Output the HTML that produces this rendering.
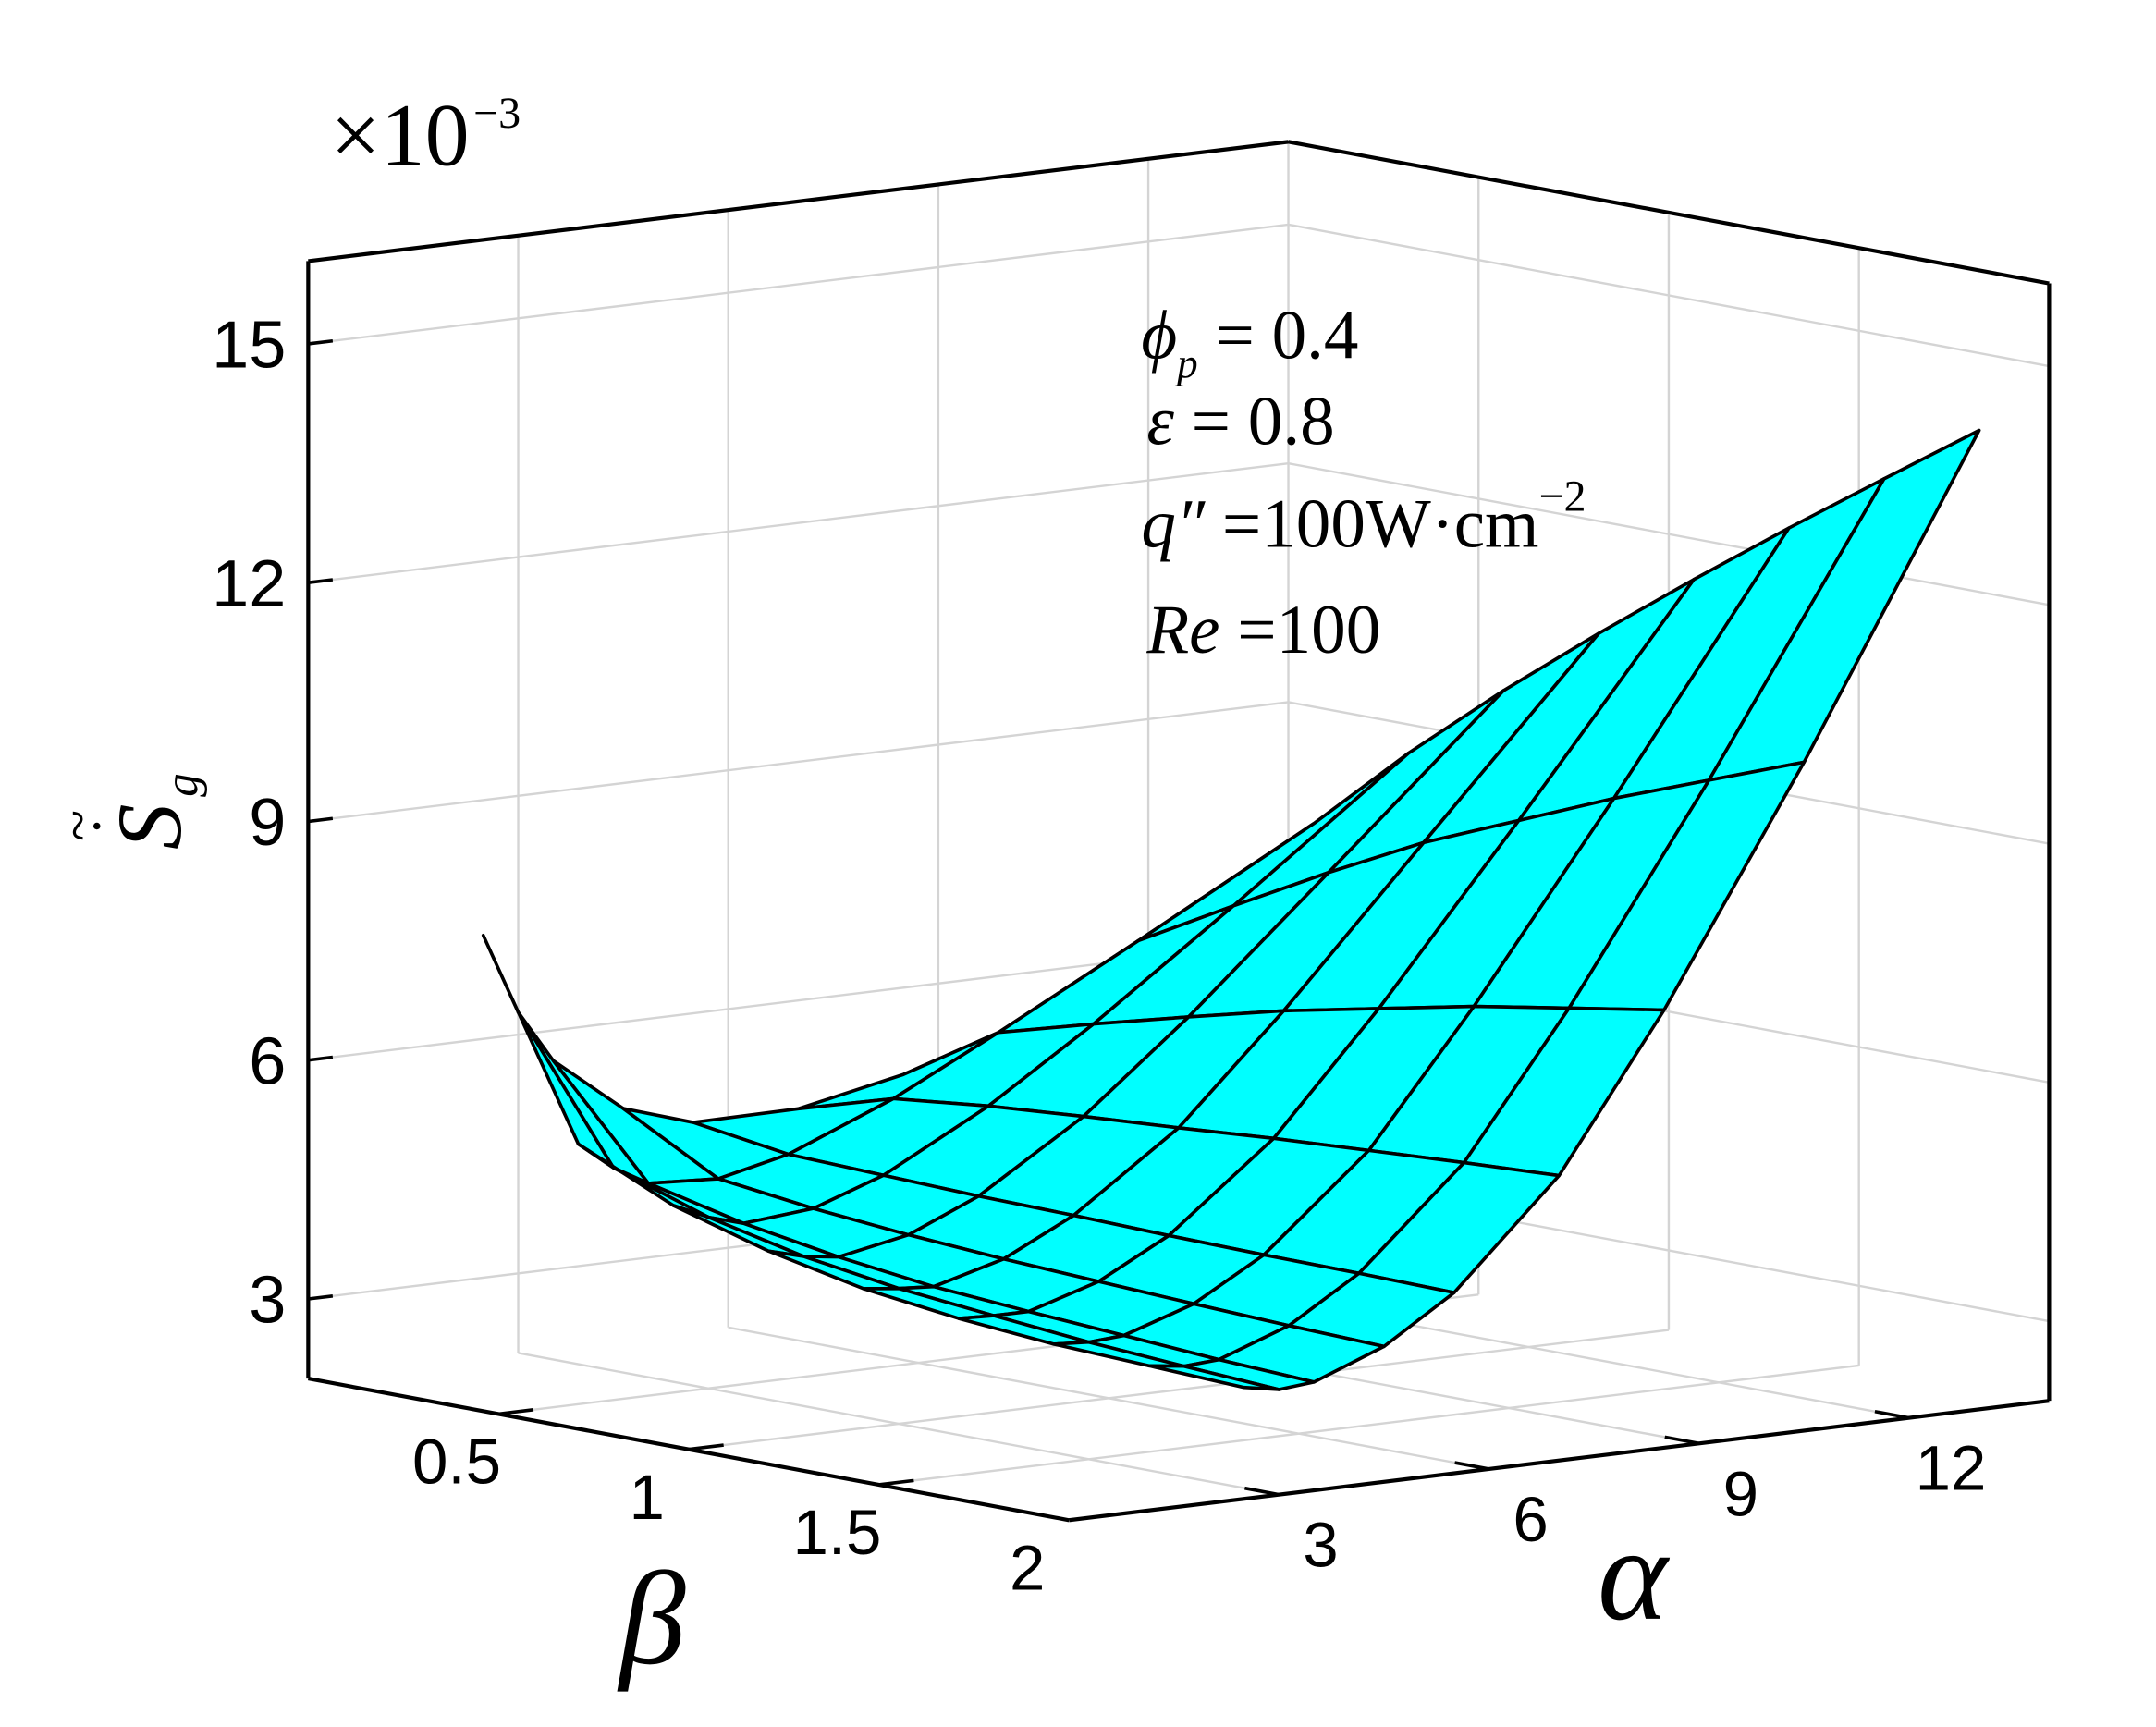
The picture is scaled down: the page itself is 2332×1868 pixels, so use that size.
<!DOCTYPE html>
<html><head><meta charset="utf-8">
<style>
html,body{margin:0;padding:0;background:#fff;}
svg{display:block;}
</style></head>
<body>
<svg id="chart" xmlns="http://www.w3.org/2000/svg" width="2332" height="1868" viewBox="0 0 1553 1244">
<rect x="0" y="0" width="1553" height="1244" fill="#fff"/>
<g id="grid"></g>
<g id="surface"></g>
<g id="axes"></g>
<g font-family="'Liberation Serif', serif" font-size="50" fill="#000">
  <text x="822" y="258"><tspan font-style="italic">ϕ</tspan><tspan font-style="italic" font-size="30" dy="14">p</tspan><tspan dy="-14">  = 0.4</tspan></text>
  <text x="826" y="320"><tspan font-style="italic">ε</tspan> = 0.8</text>
  <text x="822" y="394"><tspan font-style="italic">q″</tspan> =100W·cm<tspan font-size="32" dy="-26">−2</tspan></text>
  <text x="826" y="470"><tspan font-style="italic">Re</tspan> =100</text>
</g>
<g font-family="'Liberation Serif', serif" fill="#000">
  <text x="238" y="119" font-size="64">×10</text>
  <text x="341" y="92" font-size="32">−3</text>
</g>
<g transform="translate(130,612) rotate(-90)" font-family="'Liberation Serif', serif" fill="#000">
  <text x="0" y="0" font-size="66" font-style="italic">S</text>
  <text x="38" y="12" font-size="34" font-style="italic">g</text>
  <text x="10" y="-46" font-size="42">·</text>
  <text x="6" y="-60" font-size="42">~</text>
</g>
<text x="470" y="1198" font-family="'Liberation Serif', serif" font-style="italic" font-size="96" text-anchor="middle">β</text>
<text x="1176" y="1166" font-family="'Liberation Serif', serif" font-style="italic" font-size="96" text-anchor="middle">α</text>
</svg>
<script>
// ---- data ----
const alphaVals = [2.5, 3, 3.5, 4.5, 5.5, 7, 8.5, 10.5, 13];
const betaVals = [0, 0.25, 0.5, 0.75, 1, 1.25, 1.5, 1.75, 2];
// rows: beta index, cols: alpha index  (values x10^-3)
const sgRow0 = [7.30, 6.28, 5.62, 4.91, 4.63, 4.64, 4.91, 5.47, 6.36];
const sgRow1 = [4.90, 4.55, 4.30, 4.25, 4.45, 4.99, 5.66, 6.60, 7.80];
const sgRow2 = [4.35, 4.15, 4.02, 4.10, 4.41, 5.12, 5.99, 7.26, 8.91];
const sgRow3 = [4.00, 3.88, 3.82, 3.99, 4.37, 5.21, 6.30, 7.90, 9.92];
const sgRow4 = [3.75, 3.70, 3.67, 3.91, 4.35, 5.29, 6.60, 8.50, 10.86];
const sgRow5 = [3.60, 3.58, 3.58, 3.85, 4.32, 5.38, 6.85, 9.00, 11.76];
const sgRow6 = [3.50, 3.47, 3.50, 3.79, 4.30, 5.45, 7.10, 9.50, 12.63];
const sgRow7 = [3.45, 3.39, 3.42, 3.74, 4.29, 5.52, 7.30, 9.95, 13.47];
const sgRow8 = [3.40, 3.32, 3.36, 3.70, 4.27, 5.58, 7.50, 10.40, 14.30];
const sgRows = [sgRow0, sgRow1, sgRow2, sgRow3, sgRow4, sgRow5, sgRow6, sgRow7, sgRow8];
const zTicks = [3, 6, 9, 12, 15];
const zTickLabels = ["3", "6", "9", "12", "15"];
const alphaTicks = [3, 6, 9, 12];
const alphaTickLabels = ["3", "6", "9", "12"];
const betaTicks = [0.5, 1, 1.5];
const betaTickLabels = ["0.5", "1", "1.5", "2"];
const betaLabelVals = [0.5, 1, 1.5, 2];

// ---- axis functions ----
const A_MAX = 14, B_MAX = 2, Z_MIN = 2, Z_MAX = 16.04;
function px(a, b, z) { return 222 + 50.43 * a + 274 * b; }
function py(a, b, z) { return 993 - 6.14 * a + 51 * b - 57.33 * (z - Z_MIN); }
const NS = "http://www.w3.org/2000/svg";
function mk(tag, attrs, parent) {
  const e = document.createElementNS(NS, tag);
  for (const k in attrs) e.setAttribute(k, attrs[k]);
  parent.appendChild(e);
  return e;
}
function line(p, q, parent, stroke, w) {
  return mk("line", {x1: p[0], y1: p[1], x2: q[0], y2: q[1], stroke: stroke, "stroke-width": w}, parent);
}
function P(a, b, z) { return [px(a, b, z), py(a, b, z)]; }

// ---- grid ----
const grid = document.getElementById("grid");
const gc = "#d4d4d4", gw = 1.6;
for (const a of alphaTicks) {
  let l = line(P(a, 0, Z_MIN), P(a, 0, Z_MAX), grid, gc, gw);
  
  
  l = line(P(a, 0, Z_MIN), P(a, B_MAX, Z_MIN), grid, gc, gw);
  
  
}
for (const b of betaTicks) {
  let l = line(P(A_MAX, b, Z_MIN), P(A_MAX, b, Z_MAX), grid, gc, gw);
  
  
  l = line(P(0, b, Z_MIN), P(A_MAX, b, Z_MIN), grid, gc, gw);
  
  
}
for (const z of zTicks) {
  let l = line(P(0, 0, z), P(A_MAX, 0, z), grid, gc, gw);
  
  
  l = line(P(A_MAX, 0, z), P(A_MAX, B_MAX, z), grid, gc, gw);
  
  
}
{
  const l = line(P(A_MAX, 0, Z_MIN), P(A_MAX, 0, Z_MAX), grid, gc, gw);
  
  
}

// ---- surface ----
const surf = document.getElementById("surface");
const quads = [];
for (let i = 0; i < betaVals.length - 1; i++) {
  for (let j = 0; j < alphaVals.length - 1; j++) {
    const pts = [[i, j], [i, j + 1], [i + 1, j + 1], [i + 1, j]].map(([bi, aj]) =>
      P(alphaVals[aj], betaVals[bi], sgRows[bi][aj]));
    const ac = (alphaVals[j] + alphaVals[j + 1]) / 2;
    const bc = (betaVals[i] + betaVals[i + 1]) / 2;
    const depth = ac / A_MAX - bc / B_MAX;
    quads.push({pts, depth});
  }
}
quads.sort((u, v) => v.depth - u.depth);
for (const q of quads) {
  const poly = mk("polygon", {
    points: q.pts.map(p => p[0].toFixed(1) + "," + p[1].toFixed(1)).join(" "),
    fill: "#00ffff", stroke: "#000", "stroke-width": 2.4, "stroke-linejoin": "round"
  }, surf);
  
  
}

// ---- axes ----
const axes = document.getElementById("axes");
const bw = 2.8;
const boxEdges = [
  [P(0, 0, Z_MIN), P(0, 0, Z_MAX)],
  [P(0, 0, Z_MAX), P(A_MAX, 0, Z_MAX)],
  [P(A_MAX, 0, Z_MAX), P(A_MAX, B_MAX, Z_MAX)],
  [P(A_MAX, B_MAX, Z_MIN), P(A_MAX, B_MAX, Z_MAX)],
  [P(0, 0, Z_MIN), P(0, B_MAX, Z_MIN)],
  [P(0, B_MAX, Z_MIN), P(A_MAX, B_MAX, Z_MIN)]
];
for (const e of boxEdges) {
  const l = line(e[0], e[1], axes, "#000", bw);
  
  
}
const tf = "'Liberation Sans', sans-serif";
zTicks.forEach((z, k) => {
  const l = line(P(0, 0, z), P(0.35, 0, z), axes, "#000", 2.4);
  
  
  const t = mk("text", {x: 206, y: py(0, 0, z) + 17, "font-family": tf, "font-size": 48, "text-anchor": "end"}, axes);
  t.textContent = zTickLabels[k];
  
  
});
betaTicks.forEach(b => {
  const l = line(P(0, b, Z_MIN), P(0.5, b, Z_MIN), axes, "#000", 2.4);
  
  
});
betaLabelVals.forEach((b, k) => {
  const t = mk("text", {x: px(0, b, Z_MIN) - 30, y: py(0, b, Z_MIN) + 50, "font-family": tf, "font-size": 46, "text-anchor": "middle"}, axes);
  t.textContent = betaTickLabels[k];
  
  
});
alphaTicks.forEach((a, k) => {
  const l = line(P(a, B_MAX, Z_MIN), P(a, B_MAX - 0.09, Z_MIN), axes, "#000", 2.4);
  
  
  const t = mk("text", {x: px(a, B_MAX, Z_MIN) + 30, y: py(a, B_MAX, Z_MIN) + 52, "font-family": tf, "font-size": 46, "text-anchor": "middle"}, axes);
  t.textContent = alphaTickLabels[k];
  
  
});
</script>
</body></html>
